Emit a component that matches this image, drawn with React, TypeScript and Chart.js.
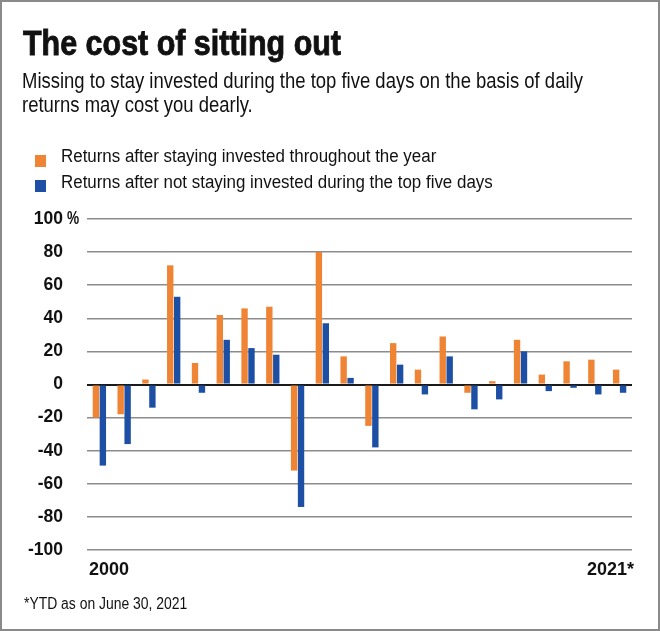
import React, { useEffect, useRef } from "react";
import { Chart, registerables } from "chart.js";

Chart.register(...registerables);

const years = ["2000","2001","2002","2003","2004","2005","2006","2007","2008","2009","2010","2011","2012","2013","2014","2015","2016","2017","2018","2019","2020","2021*"];
const investedReturns = [-20, -18, 3, 72, 13, 42, 46, 47, -52, 80, 17, -25, 25, 9, 29, -5, 2, 27, 6, 14, 15, 9];
const missedTopFiveReturns = [-49, -36, -14, 53, -5, 27, 22, 18, -74, 37, 4, -38, 12, -6, 17, -15, -9, 20, -4, -2, -6, -5];
const yTicks = [-100, -80, -60, -40, -20, 0, 20, 40, 60, 80, 100];
const seriesNames = [
  "Returns after staying invested throughout the year",
  "Returns after not staying invested during the top five days",
];
const xEndLabels = ["2000", "2021*"];

const FONT = '"Liberation Sans", Arial, sans-serif';
const ORANGE = "#EF8435";
const BLUE = "#1D4FA4";

export default function App() {
  const ref = useRef<HTMLCanvasElement | null>(null);

  useEffect(() => {
    document.body.style.margin = "0";
    const canvas = ref.current;
    if (!canvas) return;
    const extra = {
      id: "extraText",
      afterDraw(chart: any) {
        const { ctx, chartArea } = chart;
        const y = chart.scales.y;
        ctx.save();
        ctx.fillStyle = "#111";
        ctx.font = `bold 17.5px ${FONT}`;
        ctx.textBaseline = "middle";
        ctx.textAlign = "left";
        ctx.save();
        ctx.translate(chartArea.left - 20, y.getPixelForValue(100));
        ctx.scale(0.78, 1);
        ctx.fillText("%", 0, 0);
        ctx.restore();
        ctx.font = `bold 18px ${FONT}`;
        ctx.textBaseline = "alphabetic";
        ctx.fillText(xEndLabels[0], chartArea.left + 2, chartArea.bottom + 25);
        ctx.textAlign = "right";
        ctx.fillText(xEndLabels[1], chartArea.right + 2, chartArea.bottom + 25);
        ctx.restore();
      },
    };
    const chart = new Chart(canvas, {
      type: "bar",
      data: {
        labels: years,
        datasets: [
          { label: seriesNames[0], data: investedReturns, backgroundColor: ORANGE, barPercentage: 0.92, categoryPercentage: 0.56 },
          { label: seriesNames[1], data: missedTopFiveReturns, backgroundColor: BLUE, barPercentage: 0.92, categoryPercentage: 0.56 },
        ],
      },
      options: {
        animation: false,
        responsive: true,
        maintainAspectRatio: false,
        layout: { padding: { top: 219, bottom: 81, left: 0, right: 28 } },
        plugins: { legend: { display: false }, title: { display: false }, tooltip: { enabled: false } },
        scales: {
          x: { display: false, grid: { display: false } },
          y: {
            min: -100,
            max: 100,
            afterFit(scale: any) { scale.width = 87; },
            afterBuildTicks(scale: any) { scale.ticks = yTicks.map((v) => ({ value: v })); },
            border: { display: false },
            grid: {
              drawTicks: false,
              color: (c: any) => (c.tick && c.tick.value === 0 ? "#1a1a1a" : "#8c8c8c"),
              lineWidth: (c: any) => (c.tick && c.tick.value === 0 ? 2 : 1.5),
            },
            ticks: {
              padding: 24,
              color: "#111",
              font: { family: FONT, size: 17.5, weight: "bold" },
              callback: (v: any) => String(v),
            },
          },
        },
      },
      plugins: [extra],
    });
    return () => chart.destroy();
  }, []);

  const txt: React.CSSProperties = { position: "absolute", fontFamily: FONT, color: "#111", whiteSpace: "nowrap", margin: 0, transformOrigin: "0 0" };

  return (
    <div style={{ position: "absolute", left: 0, top: 0, width: 660, height: 631, boxSizing: "border-box", border: "2px solid #8a8a8a", background: "#fff", overflow: "hidden" }}>
      <div style={{ position: "absolute", left: -2, top: -2, width: 660, height: 631 }}>
        <canvas ref={ref} />
      </div>
      <div style={{ ...txt, left: 21, top: 21, fontSize: 35, fontWeight: "bold", lineHeight: "40px", transform: "scaleX(0.87)", WebkitTextStroke: "0.9px #111" } as any}>The cost of sitting out</div>
      <div style={{ ...txt, left: 20, top: 67, fontSize: 22, lineHeight: "23.5px", transform: "scaleX(0.84)" }}>
        Missing to stay invested during the top five days on the basis of daily<br />returns may cost you dearly.
      </div>
      <span style={{ position: "absolute", left: 33, top: 153, width: 11, height: 12, background: ORANGE }} />
      <span style={{ position: "absolute", left: 33, top: 178, width: 11, height: 12, background: BLUE }} />
      <div style={{ ...txt, left: 59, top: 141, fontSize: 18, lineHeight: "26px", transform: "scaleX(0.94)" }}>
        {seriesNames[0]}<br />{seriesNames[1]}
      </div>
      <div style={{ ...txt, left: 22, top: 593, fontSize: 16, lineHeight: "18px", transform: "scaleX(0.87)" }}>*YTD as on June 30, 2021</div>
    </div>
  );
}
